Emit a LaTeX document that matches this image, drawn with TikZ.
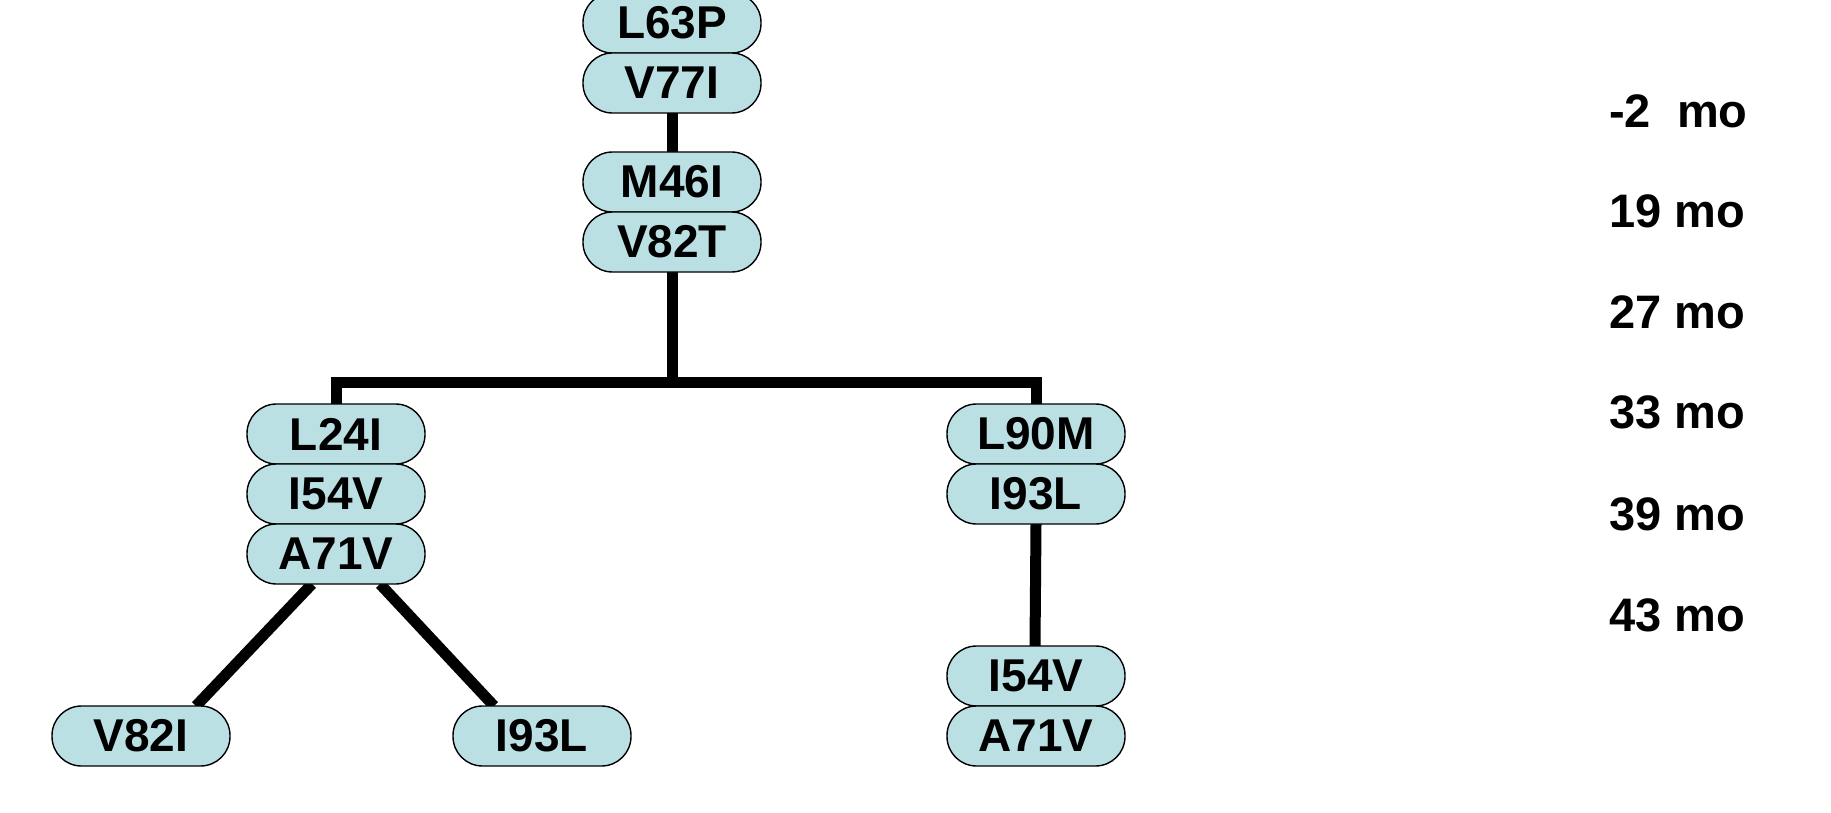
\documentclass[tikz,border=0pt]{standalone}
\usepackage{fontspec}
\setmainfont{Liberation Sans}
\definecolor{pill}{RGB}{187,224,228}
\begin{document}
\begin{tikzpicture}[x=1pt,y=-1pt,
  pillbox/.style={draw=black,line width=1.4pt,fill=pill,rounded corners=29.5pt,
    minimum width=178pt,minimum height=60pt,inner sep=0pt,
    font=\fontsize{46}{50}\selectfont\bfseries},
  link/.style={line width=11pt,black},
  tlabel/.style={anchor=west,inner sep=0pt,font=\fontsize{47}{52}\selectfont\bfseries}]
\useasboundingbox (0,0) rectangle (1831,813);
% connectors first
\coordinate (bl) at (336,382);
\coordinate (bm) at (672,382);
\coordinate (br) at (1036,382);
\coordinate (v82tb) at (672,272);
\coordinate (m46it) at (672,152);
\coordinate (v77ib) at (672,113);
\draw[link] (v77ib) -- (m46it);
\draw[link] (v82tb) -- (bm);
\draw[link,line join=miter] (336,404) -- (bl) -- (br) -- (1036,404);
\draw[link] (312,584) -- (196,706);
\draw[link] (380,584) -- (494,706);
\draw[link] (1036,524) -- (1035,646);
% pills
\node[pillbox] (n1) at (672,23) {L63P};
\node[pillbox] (n2) at (672,83) {V77I};
\node[pillbox] (n3) at (672,182) {M46I};
\node[pillbox] (n4) at (672,242) {V82T};
\node[pillbox] (l1) at (336,434) {L24I};
\node[pillbox] (l2) at (336,494) {I54V};
\node[pillbox] (l3) at (336,554) {A71V};
\node[pillbox] (ll) at (141,736) {V82I};
\node[pillbox] (lr) at (542,736) {I93L};
\node[pillbox] (r1) at (1036,434) {L90M};
\node[pillbox] (r2) at (1036,494) {I93L};
\node[pillbox] (r3) at (1036,676) {I54V};
\node[pillbox] (r4) at (1036,736) {A71V};
% time labels
\node[tlabel] (t1) at (1609,111) {-2\ \ mo};
\node[tlabel] (t2) at (1609,211) {19 mo};
\node[tlabel] (t3) at (1609,312) {27 mo};
\node[tlabel] (t4) at (1609,412) {33 mo};
\node[tlabel] (t5) at (1609,514) {39 mo};
\node[tlabel] (t6) at (1609,615) {43 mo};
\end{tikzpicture}
\end{document}
